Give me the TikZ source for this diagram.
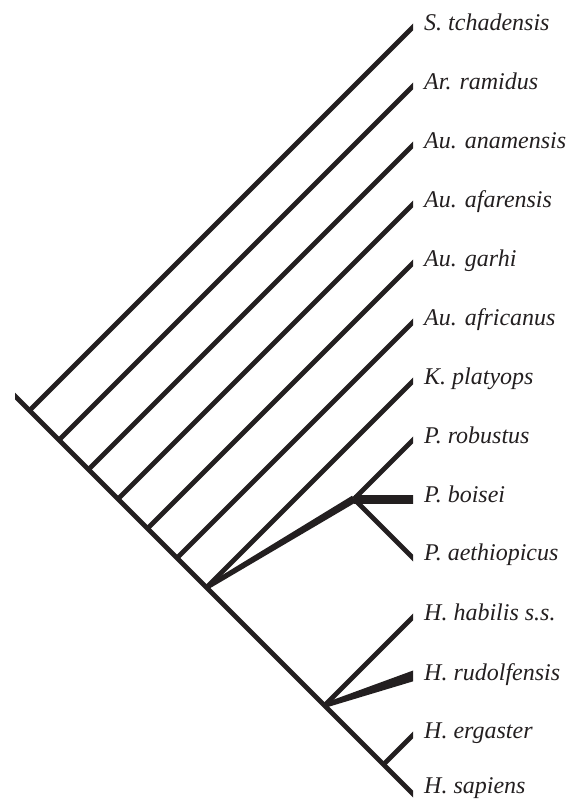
\documentclass[tikz,border=0pt]{standalone}
\usepackage{fontspec}
\setmainfont{Liberation Serif}
\usetikzlibrary{calc}
\definecolor{ink}{HTML}{231F20}
\begin{document}
\begin{tikzpicture}[x=1pt,y=-1pt,
  branch/.style={draw=ink, line width=4.8pt, shorten >=-8pt},
  spine/.style={draw=ink, line width=4.8pt, shorten >=-8pt, shorten <=-8pt},
  bar/.style={draw=ink, line width=9pt, shorten >=-8pt},
  wedge/.style={fill=ink, draw=none},
  taxon/.style={anchor=base west, inner sep=0pt, text=ink,
    font=\fontsize{24}{28}\selectfont\itshape}]
\useasboundingbox (0,0) rectangle (567,800);
% spine ends
\coordinate (s0) at (15,396);
\coordinate (s1) at (413,794);
% junctions on the spine
\coordinate (j0) at (29.5,410.5);
\coordinate (j1) at (59,440);
\coordinate (j2) at (88.5,469.5);
\coordinate (j3) at (118,499);
\coordinate (j4) at (147.5,528.5);
\coordinate (j5) at (177,558);
\coordinate (j6) at (206.5,587.5);
\coordinate (hn) at (324.5,705.5);
\coordinate (ej) at (383.5,764.5);
\coordinate (pn) at (354,499);
% tips
\coordinate (t0) at (413,27);
\coordinate (t1) at (413,86);
\coordinate (t2) at (413,145);
\coordinate (t3) at (413,204);
\coordinate (t4) at (413,263);
\coordinate (t5) at (413,322);
\coordinate (t6) at (413,381);
\coordinate (t7) at (413,440);
\coordinate (t8) at (413,499);
\coordinate (t9) at (413,558);
\coordinate (t10) at (413,617);
\coordinate (t11) at (413,676);
\coordinate (t12) at (413,735);
\begin{scope}
\clip (15,0) rectangle (413,800);
\draw[spine] (s0) -- (s1);
\draw[branch] (j0) -- (t0);
\draw[branch] (j1) -- (t1);
\draw[branch] (j2) -- (t2);
\draw[branch] (j3) -- (t3);
\draw[branch] (j4) -- (t4);
\draw[branch] (j5) -- (t5);
\draw[branch] (j6) -- (t6);
% Paranthropus
\fill[wedge] ($(j6)!2.4pt!90:(pn)$) -- ($(j6)!2.4pt!-90:(pn)$)
  -- ($(pn)!3.8pt!90:(j6)$) -- ($(pn)!3.8pt!-90:(j6)$) -- cycle;
\draw[branch] (pn) -- (t7);
\draw[bar] (pn) -- (t8);
\draw[branch] (pn) -- (t9);
% Homo
\draw[branch] (hn) -- (t10);
\coordinate (rx) at ($(hn)!1.1!(t11)$);
\fill[wedge] ($(hn)!2.4pt!90:(t11)$) -- ($(hn)!2.4pt!-90:(t11)$)
  -- ($(rx)!5.4pt!90:(hn)$) -- ($(rx)!5.4pt!-90:(hn)$) -- cycle;
\draw[branch] (ej) -- (t12);
\end{scope}
% labels
\node[taxon] (l0) at (424,30.5) {S. tchadensis};
\node[taxon] (l1) at (424,89.5) {Ar. ramidus};
\node[taxon] (l2) at (424,148.5) {Au. anamensis};
\node[taxon] (l3) at (424,207.5) {Au. afarensis};
\node[taxon] (l4) at (424,266.5) {Au. garhi};
\node[taxon] (l5) at (424,325.5) {Au. africanus};
\node[taxon] (l6) at (424,384.5) {K. platyops};
\node[taxon] (l7) at (424,443.5) {P. robustus};
\node[taxon] (l8) at (424,502) {P. boisei};
\node[taxon] (l9) at (424,560.5) {P. aethiopicus};
\node[taxon] (l10) at (424,620.5) {H. habilis s.s.};
\node[taxon] (l11) at (424,680) {H. rudolfensis};
\node[taxon] (l12) at (424,738.5) {H. ergaster};
\node[taxon] (l13) at (424,793.5) {H. sapiens};
\end{tikzpicture}
\end{document}
